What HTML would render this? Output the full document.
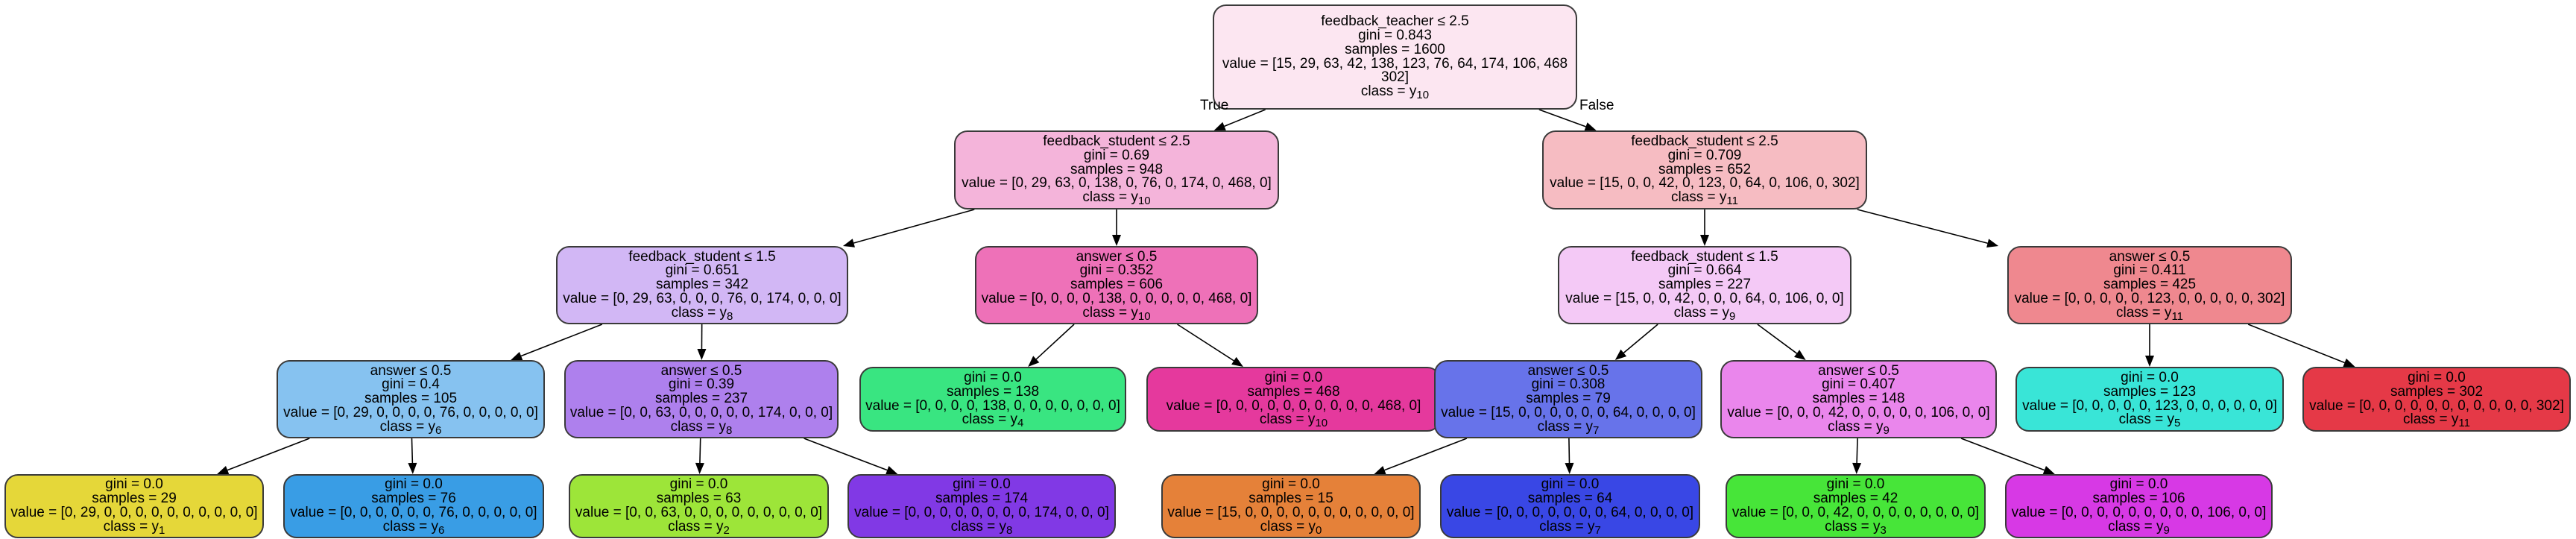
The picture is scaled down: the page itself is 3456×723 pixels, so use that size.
<!DOCTYPE html>
<html><head><meta charset="utf-8">
<style>
html,body{margin:0;padding:0;background:#fff;}
body{width:3456px;height:723px;position:relative;overflow:hidden;font-family:"Liberation Sans",Arial,sans-serif;}
.n{position:absolute;box-sizing:border-box;border:2px solid #3a3a3a;border-radius:18px;display:flex;align-items:center;justify-content:center;text-align:center;font-size:19px;line-height:18.8px;color:#000;white-space:nowrap;}
.n > div{display:block;}
.n sub{font-size:15px;vertical-align:-4px;line-height:0;}
.lbl{position:absolute;font-size:19px;}
svg{position:absolute;left:0;top:0;}
</style></head><body>
<svg id="edges" width="3456" height="723"></svg>

<div class="n" id="root" style="left:1627px;top:6px;width:489px;height:141px;background:#fce6f1"><div>feedback_teacher ≤ 2.5<br>gini = 0.843<br>samples = 1600<br>value = [15, 29, 63, 42, 138, 123, 76, 64, 174, 106, 468<br>302]<br>class = y<sub>10</sub></div></div>

<div class="n" id="A" style="left:1280px;top:175px;width:436px;height:106px;background:#f4b4da"><div>feedback_student ≤ 2.5<br>gini = 0.69<br>samples = 948<br>value = [0, 29, 63, 0, 138, 0, 76, 0, 174, 0, 468, 0]<br>class = y<sub>10</sub></div></div>
<div class="n" id="B" style="left:2069px;top:175px;width:436px;height:106px;background:#f6bcc2"><div>feedback_student ≤ 2.5<br>gini = 0.709<br>samples = 652<br>value = [15, 0, 0, 42, 0, 123, 0, 64, 0, 106, 0, 302]<br>class = y<sub>11</sub></div></div>

<div class="n" id="C" style="left:746px;top:330px;width:392px;height:105px;background:#d2b7f5"><div>feedback_student ≤ 1.5<br>gini = 0.651<br>samples = 342<br>value = [0, 29, 63, 0, 0, 0, 76, 0, 174, 0, 0, 0]<br>class = y<sub>8</sub></div></div>
<div class="n" id="D" style="left:1308px;top:330px;width:380px;height:105px;background:#ee71b8"><div>answer ≤ 0.5<br>gini = 0.352<br>samples = 606<br>value = [0, 0, 0, 0, 138, 0, 0, 0, 0, 0, 468, 0]<br>class = y<sub>10</sub></div></div>
<div class="n" id="E" style="left:2090px;top:330px;width:394px;height:105px;background:#f4c9f6"><div>feedback_student ≤ 1.5<br>gini = 0.664<br>samples = 227<br>value = [15, 0, 0, 42, 0, 0, 0, 64, 0, 106, 0, 0]<br>class = y<sub>9</sub></div></div>
<div class="n" id="F" style="left:2693px;top:330px;width:382px;height:105px;background:#ef888f"><div>answer ≤ 0.5<br>gini = 0.411<br>samples = 425<br>value = [0, 0, 0, 0, 0, 123, 0, 0, 0, 0, 0, 302]<br>class = y<sub>11</sub></div></div>

<div class="n" id="G" style="left:371px;top:483px;width:360px;height:105px;background:#86c2f0"><div>answer ≤ 0.5<br>gini = 0.4<br>samples = 105<br>value = [0, 29, 0, 0, 0, 0, 76, 0, 0, 0, 0, 0]<br>class = y<sub>6</sub></div></div>
<div class="n" id="Gb" style="left:757px;top:483px;width:368px;height:105px;background:#ae80ed"><div>answer ≤ 0.5<br>gini = 0.39<br>samples = 237<br>value = [0, 0, 63, 0, 0, 0, 0, 0, 174, 0, 0, 0]<br>class = y<sub>8</sub></div></div>
<div class="n" id="L1" style="left:1153px;top:492px;width:358px;height:87px;background:#39e581"><div>gini = 0.0<br>samples = 138<br>value = [0, 0, 0, 0, 138, 0, 0, 0, 0, 0, 0, 0]<br>class = y<sub>4</sub></div></div>
<div class="n" id="L2" style="left:1538px;top:492px;width:395px;height:87px;background:#e5399d"><div>gini = 0.0<br>samples = 468<br>value = [0, 0, 0, 0, 0, 0, 0, 0, 0, 0, 468, 0]<br>class = y<sub>10</sub></div></div>
<div class="n" id="H" style="left:1924px;top:483px;width:360px;height:105px;background:#6773ea"><div>answer ≤ 0.5<br>gini = 0.308<br>samples = 79<br>value = [15, 0, 0, 0, 0, 0, 0, 64, 0, 0, 0, 0]<br>class = y<sub>7</sub></div></div>
<div class="n" id="I" style="left:2308px;top:483px;width:371px;height:105px;background:#ea86ec"><div>answer ≤ 0.5<br>gini = 0.407<br>samples = 148<br>value = [0, 0, 0, 42, 0, 0, 0, 0, 0, 106, 0, 0]<br>class = y<sub>9</sub></div></div>
<div class="n" id="J" style="left:2704px;top:492px;width:360px;height:87px;background:#39e5d7"><div>gini = 0.0<br>samples = 123<br>value = [0, 0, 0, 0, 0, 123, 0, 0, 0, 0, 0, 0]<br>class = y<sub>5</sub></div></div>
<div class="n" id="K" style="left:3089px;top:492px;width:360px;height:87px;background:#e53947"><div>gini = 0.0<br>samples = 302<br>value = [0, 0, 0, 0, 0, 0, 0, 0, 0, 0, 0, 302]<br>class = y<sub>11</sub></div></div>

<div class="n" id="M1" style="left:6px;top:636px;width:348px;height:86px;background:#e5d739"><div>gini = 0.0<br>samples = 29<br>value = [0, 29, 0, 0, 0, 0, 0, 0, 0, 0, 0, 0]<br>class = y<sub>1</sub></div></div>
<div class="n" id="M2" style="left:380px;top:636px;width:350px;height:86px;background:#399de5"><div>gini = 0.0<br>samples = 76<br>value = [0, 0, 0, 0, 0, 0, 76, 0, 0, 0, 0, 0]<br>class = y<sub>6</sub></div></div>
<div class="n" id="M3" style="left:763px;top:636px;width:349px;height:86px;background:#9de539"><div>gini = 0.0<br>samples = 63<br>value = [0, 0, 63, 0, 0, 0, 0, 0, 0, 0, 0, 0]<br>class = y<sub>2</sub></div></div>
<div class="n" id="M4" style="left:1137px;top:636px;width:360px;height:86px;background:#8139e5"><div>gini = 0.0<br>samples = 174<br>value = [0, 0, 0, 0, 0, 0, 0, 0, 174, 0, 0, 0]<br>class = y<sub>8</sub></div></div>
<div class="n" id="M5" style="left:1558px;top:636px;width:348px;height:86px;background:#e58139"><div>gini = 0.0<br>samples = 15<br>value = [15, 0, 0, 0, 0, 0, 0, 0, 0, 0, 0, 0]<br>class = y<sub>0</sub></div></div>
<div class="n" id="M6" style="left:1932px;top:636px;width:349px;height:86px;background:#3947e5"><div>gini = 0.0<br>samples = 64<br>value = [0, 0, 0, 0, 0, 0, 0, 64, 0, 0, 0, 0]<br>class = y<sub>7</sub></div></div>
<div class="n" id="M7" style="left:2315px;top:636px;width:349px;height:86px;background:#47e539"><div>gini = 0.0<br>samples = 42<br>value = [0, 0, 0, 42, 0, 0, 0, 0, 0, 0, 0, 0]<br>class = y<sub>3</sub></div></div>
<div class="n" id="M8" style="left:2690px;top:636px;width:359px;height:86px;background:#d739e5"><div>gini = 0.0<br>samples = 106<br>value = [0, 0, 0, 0, 0, 0, 0, 0, 0, 106, 0, 0]<br>class = y<sub>9</sub></div></div>

<div class="lbl" style="left:1610px;top:131px;">True</div>
<div class="lbl" style="left:2119px;top:131px;">False</div>

<script>
(function(){
var E=[["root","A"],["root","B"],["A","C"],["A","D"],["B","E"],["B","F"],["C","G"],["C","Gb"],["D","L1"],["D","L2"],["E","H"],["E","I"],["F","J"],["F","K"],["G","M1"],["G","M2"],["Gb","M3"],["Gb","M4"],["H","M5"],["H","M6"],["I","M7"],["I","M8"]];
function box(id){var e=document.getElementById(id);var l=e.offsetLeft,t=e.offsetTop,w=e.offsetWidth,h=e.offsetHeight;return{l:l,t:t,r:l+w,b:t+h,cx:l+w/2,cy:t+h/2};}
var s='';
E.forEach(function(p){var a=box(p[0]),b=box(p[1]);
 var dx=b.cx-a.cx,dy=b.cy-a.cy;
 var x1=a.cx+dx*(a.b-a.cy)/dy,y1=a.b;
 var x2=a.cx+dx*(b.t-a.cy)/dy,y2=b.t;
 var L=Math.sqrt((x2-x1)*(x2-x1)+(y2-y1)*(y2-y1));var ux=(x2-x1)/L,uy=(y2-y1)/L;
 var al=15,aw=6;var bx=x2-ux*al,by=y2-uy*al;
 s+='<line x1="'+x1+'" y1="'+y1+'" x2="'+bx+'" y2="'+by+'" stroke="#000" stroke-width="1.6"/>';
 s+='<polygon points="'+x2+','+y2+' '+(bx-uy*aw)+','+(by+ux*aw)+' '+(bx+uy*aw)+','+(by-ux*aw)+'" fill="#000"/>';
});
document.getElementById('edges').innerHTML=s;
})();
</script>
</body></html>
